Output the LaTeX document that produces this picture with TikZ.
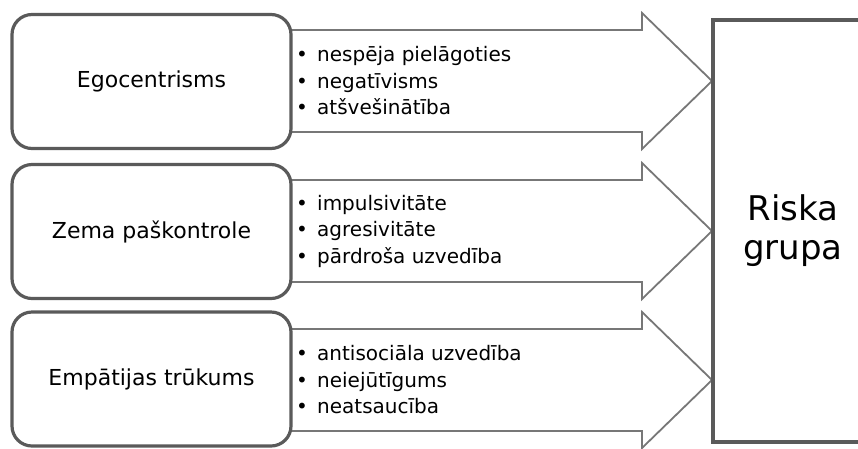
\documentclass[tikz,border=0pt]{standalone}
\usepackage{fontspec}
\setmainfont{DejaVu Sans}
\definecolor{boxgray}{HTML}{5A5A5A}
\definecolor{arrowgray}{HTML}{777777}
\newcommand{\itm}[1]{\makebox[21pt][l]{\textbullet}#1}
\begin{document}
\begin{tikzpicture}[x=1pt,y=-1pt,
  cause/.style={draw=boxgray, line width=3.2pt, rounded corners=20pt, fill=white,
    minimum width=279pt, minimum height=134pt, inner sep=0pt,
    font=\fontsize{22}{26}\selectfont},
  flow/.style={draw=arrowgray, line width=1.8pt, fill=white, line join=miter},
  items/.style={anchor=west, align=left, inner sep=0pt,
    font=\fontsize{20}{26.5}\selectfont},
  target/.style={draw=boxgray, line width=3.5pt, fill=white,
    minimum width=160pt, minimum height=422pt, align=center,
    font=\fontsize{34}{39}\selectfont}]
\useasboundingbox (0,0) rectangle (858,448);

% block arrows leading to the target box
\foreach \yc in {81,231,380}{
  \draw[flow] (285,\yc-51) -- (642,\yc-51) -- (642,\yc-68) -- (712,\yc)
    -- (642,\yc+68) -- (642,\yc+51) -- (285,\yc+51) -- cycle;
}

% cause boxes
\node[cause] (ego) at (151.5,81.5) {Egocentrisms};
\node[cause] (ctrl) at (151.5,231.5) {Zema paškontrole};
\node[cause] (emp) at (151.5,379) {Empātijas trūkums};

% bullet lists on the arrows
\node[items] (egoList) at (296,81) {\itm{nespēja pielāgoties}\\\itm{negatīvisms}\\\itm{atšvešinātība}};
\node[items] (ctrlList) at (296,231) {\itm{impulsivitāte}\\\itm{agresivitāte}\\\itm{pārdroša uzvedība}};
\node[items] (empList) at (296,380) {\itm{antisociāla uzvedība}\\\itm{neiejūtīgums}\\\itm{neatsaucība}};

% target box
\node[target] (risk) at (793,231) {Riska\\grupa};
\end{tikzpicture}
\end{document}
